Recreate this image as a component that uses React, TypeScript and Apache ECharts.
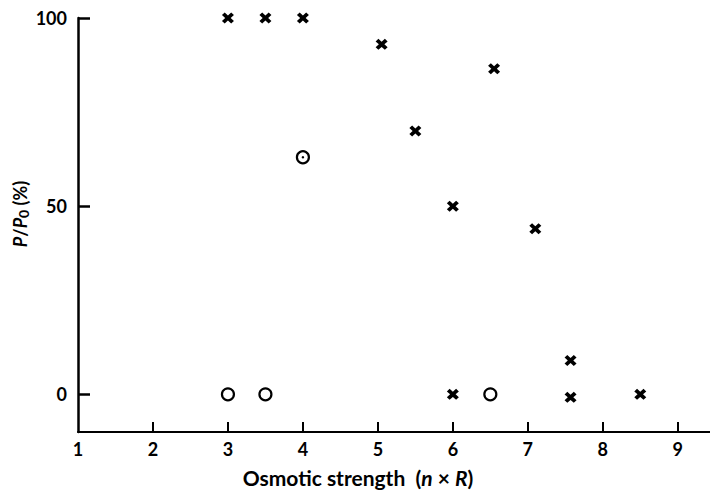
import React, { useEffect, useRef } from "react";
import * as echarts from "echarts";

// Crosses (×): osmotic strength (n × R) and P/P0 (%)
const crossX = [3, 3.5, 4, 5.05, 5.5, 6, 6.55, 7.1, 6, 7.57, 7.57, 8.5];
const crossY = [100, 100, 100, 93, 70, 50, 86.5, 44, 0, 9, -0.8, 0];
// Open circles (○)
const circleX = [3, 3.5, 4, 6.5];
const circleY = [0, 0, 63, 0];
// Dotted circle centre
const dotX = [4];
const dotY = [63];

const xTicks = [1, 2, 3, 4, 5, 6, 7, 8, 9];
const yTicks = [0, 50, 100];

const CROSS =
  "path://M0,2.3L2.3,0L5,2.7L7.7,0L10,2.3L7.3,5L10,7.7L7.7,10L5,7.3L2.3,10L0,7.7L2.7,5Z";

const zip = (xs: number[], ys: number[]) => xs.map((x, i) => [x, ys[i]]);

export default function App() {
  const ref = useRef<HTMLDivElement>(null);
  useEffect(() => {
    document.body.style.margin = "0";
    const chart = echarts.init(ref.current!, null, { renderer: "svg" });
    const font = "Lato, 'Open Sans', sans-serif";
    chart.setOption({
      animation: false,
      backgroundColor: "#fff",
      grid: { left: 78, right: 0, top: 18, bottom: 60 },
      xAxis: {
        type: "value",
        min: 1,
        max: 9.43,
        splitLine: { show: false },
        axisLine: { onZero: false, lineStyle: { color: "#000", width: 2 } },
        axisTick: {
          inside: true,
          length: 10,
          customValues: xTicks.slice(1),
          lineStyle: { color: "#000", width: 2 },
        },
        axisLabel: {
          customValues: xTicks,
          margin: 8,
          color: "#000",
          fontSize: 18,
          fontWeight: "bold",
          fontFamily: font,
        },
      },
      yAxis: {
        type: "value",
        min: -10,
        max: 100,
        splitLine: { show: false },
        axisLine: { onZero: false, lineStyle: { color: "#000", width: 2.5 } },
        axisTick: {
          inside: true,
          length: 12,
          customValues: yTicks,
          lineStyle: { color: "#000", width: 2.5 },
        },
        axisLabel: {
          customValues: yTicks,
          margin: 11,
          color: "#000",
          fontSize: 18,
          fontWeight: "bold",
          fontFamily: font,
        },
      },
      graphic: [
        {
          type: "text",
          x: 358,
          y: 477,
          style: {
            text: "Osmotic strength  ({i|n} × {i|R})",
            x: 0,
            y: 0,
            align: "center",
            verticalAlign: "middle",
            fill: "#000",
            fontSize: 21,
            fontWeight: "bold",
            fontFamily: font,
            rich: {
              i: { fontStyle: "italic", fontSize: 21, fontWeight: "bold", fontFamily: font, fill: "#000" },
            },
          },
        },
        {
          type: "text",
          x: 20,
          y: 214,
          rotation: Math.PI / 2,
          style: {
            text: "{i|P}{n|/}{i|P}{s|0}{n| (%)}",
            x: 0,
            y: 0,
            align: "center",
            verticalAlign: "middle",
            fill: "#000",
            fontSize: 18,
            fontWeight: "bold",
            fontFamily: font,
            rich: {
              i: { fontStyle: "italic", fontSize: 18, fontWeight: "bold", fontFamily: font, fill: "#000" },
              n: { fontSize: 18, fontWeight: "bold", fontFamily: font, fill: "#000" },
              s: { fontSize: 14, fontWeight: "bold", fontFamily: font, fill: "#000", padding: [6, 0, 0, 0] },
            },
          },
        },
      ],
      series: [
        {
          type: "scatter",
          data: zip(crossX, crossY),
          symbol: CROSS,
          symbolSize: [12, 11],
          itemStyle: { color: "#000", opacity: 1 },
          silent: true,
        },
        {
          type: "scatter",
          data: zip(circleX, circleY),
          symbol: "circle",
          symbolSize: 12,
          itemStyle: { color: "#fff", borderColor: "#000", borderWidth: 2.2, opacity: 1 },
          silent: true,
        },
        {
          type: "scatter",
          data: zip(dotX, dotY),
          symbol: "circle",
          symbolSize: 2.5,
          itemStyle: { color: "#000", opacity: 1 },
          silent: true,
        },
      ],
    });
    return () => chart.dispose();
  }, []);
  return (
    <div
      ref={ref}
      style={{ position: "fixed", left: 0, top: 0, width: 710, height: 492 }}
    />
  );
}
